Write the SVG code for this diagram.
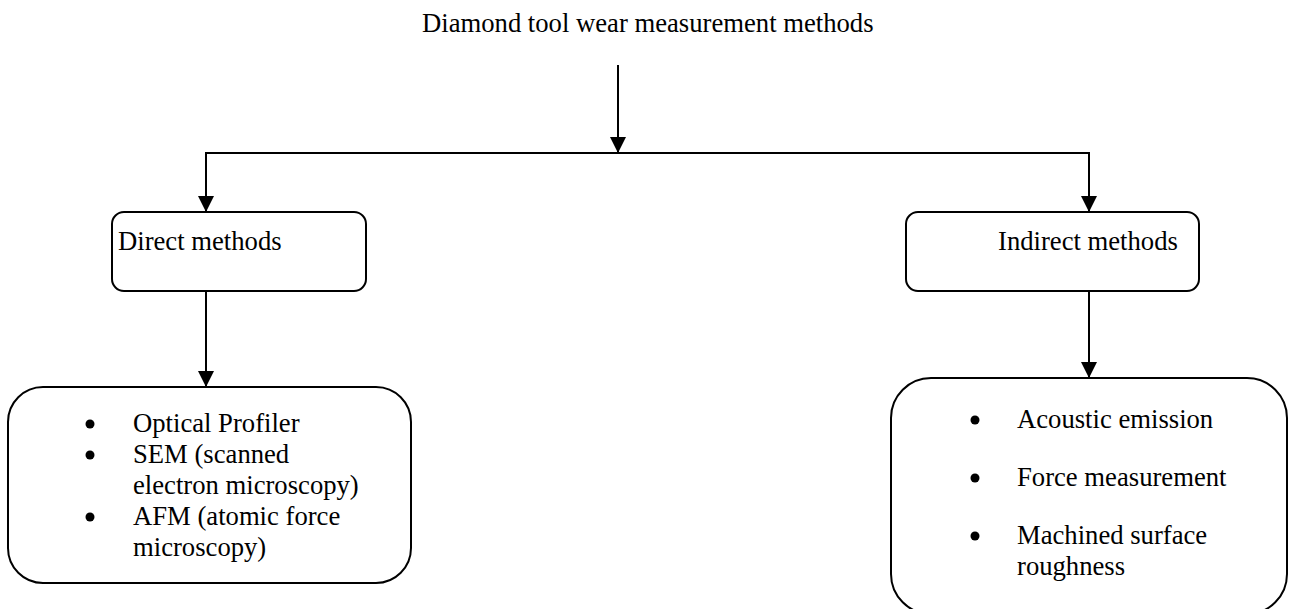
<svg xmlns="http://www.w3.org/2000/svg" width="1289" height="609" viewBox="0 0 1289 609">
<style>
text{font-family:"Liberation Serif","Times New Roman",serif;font-size:26.67px;fill:#000}
.box{fill:#fff;stroke:#000;stroke-width:2}
.ln{fill:none;stroke:#000;stroke-width:2}
.bul{fill:#000}
</style>
<defs>
<marker id="ah" viewBox="0 0 16 16" refX="16" refY="8" markerWidth="16" markerHeight="16" markerUnits="userSpaceOnUse" orient="auto">
<path d="M0,0 L16,8 L0,16 Z" fill="#000"/>
</marker>
</defs>
<rect width="1289" height="609" fill="#fff"/>
<g id="title"><text x="422" y="32">Diamond tool wear measurement methods</text></g>
<g id="connectors">
<line class="ln" x1="618" y1="65" x2="618" y2="153" marker-end="url(#ah)"/>
<line class="ln" x1="206" y1="153" x2="1090" y2="153"/>
<line class="ln" x1="206" y1="152" x2="206" y2="212" marker-end="url(#ah)"/>
<line class="ln" x1="1089" y1="152" x2="1089" y2="212" marker-end="url(#ah)"/>
<line class="ln" x1="206" y1="291" x2="206" y2="387" marker-end="url(#ah)"/>
<line class="ln" x1="1089" y1="291" x2="1089" y2="378" marker-end="url(#ah)"/>
</g>
<g id="direct">
<rect class="box" x="112" y="212" width="254" height="79" rx="12"/>
<text x="118" y="250">Direct methods</text>
</g>
<g id="indirect">
<rect class="box" x="906" y="212" width="293" height="79" rx="12"/>
<text x="998" y="250">Indirect methods</text>
</g>
<g id="direct-list">
<rect class="box" x="8" y="387" width="403" height="196" rx="35"/>
<circle class="bul" cx="90" cy="424" r="4.5"/>
<text x="133" y="432">Optical Profiler</text>
<circle class="bul" cx="90" cy="455" r="4.5"/>
<text x="133" y="463">SEM (scanned</text>
<text x="133" y="494">electron microscopy)</text>
<circle class="bul" cx="90" cy="517" r="4.5"/>
<text x="133" y="525">AFM (atomic force</text>
<text x="133" y="556">microscopy)</text>
</g>
<g id="indirect-list">
<rect class="box" x="891" y="378" width="396" height="236" rx="40"/>
<circle class="bul" cx="975" cy="420" r="4.5"/>
<text x="1017" y="428">Acoustic emission</text>
<circle class="bul" cx="975" cy="478" r="4.5"/>
<text x="1017" y="486">Force measurement</text>
<circle class="bul" cx="975" cy="536" r="4.5"/>
<text x="1017" y="544">Machined surface</text>
<text x="1017" y="575">roughness</text>
</g>
</svg>
